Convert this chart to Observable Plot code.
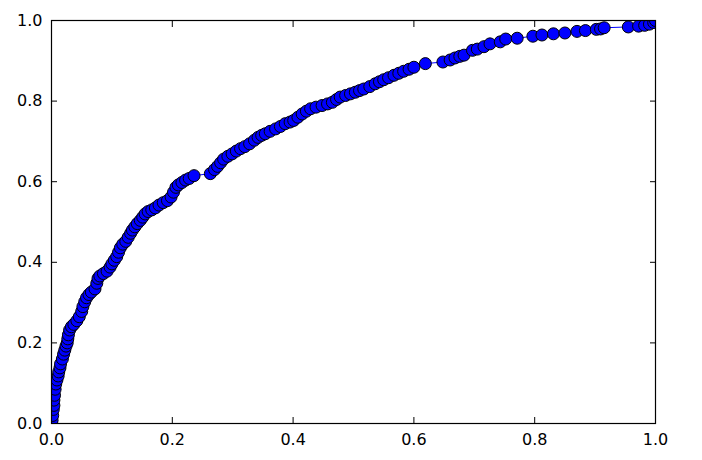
<!DOCTYPE html>
<html>
<head>
<meta charset="utf-8">
<script src="https://cdn.jsdelivr.net/npm/d3@7"></script>
<script src="https://cdn.jsdelivr.net/npm/@observablehq/plot@0.6"></script>
<style>
  html, body { margin: 0; padding: 0; background: #fff; }
  #chart { width: 702px; height: 460px; }
</style>
</head>
<body>
<div id="chart"></div>
<script>
const xValues = [
  0.000, 0.001, 0.002, 0.003, 0.004, 0.004, 0.005, 0.006, 0.007, 0.009,
  0.011, 0.012, 0.014, 0.015, 0.018, 0.020, 0.022, 0.024, 0.026, 0.027,
  0.028, 0.030, 0.033, 0.037, 0.042, 0.046, 0.050, 0.052, 0.055, 0.058,
  0.062, 0.066, 0.072, 0.075, 0.077, 0.080, 0.086, 0.092, 0.097, 0.100,
  0.104, 0.108, 0.111, 0.114, 0.118, 0.123, 0.127, 0.131, 0.134, 0.138,
  0.142, 0.147, 0.151, 0.155, 0.160, 0.166, 0.172, 0.178, 0.185, 0.192,
  0.198, 0.202, 0.206, 0.210, 0.216, 0.222, 0.228, 0.236, 0.263, 0.270,
  0.275, 0.280, 0.285, 0.292, 0.299, 0.306, 0.313, 0.320, 0.328, 0.336,
  0.342, 0.348, 0.354, 0.362, 0.371, 0.379, 0.387, 0.395, 0.401, 0.408,
  0.415, 0.422, 0.429, 0.438, 0.448, 0.457, 0.465, 0.472, 0.478, 0.487,
  0.495, 0.503, 0.510, 0.517, 0.527, 0.536, 0.543, 0.550, 0.558, 0.567,
  0.575, 0.583, 0.592, 0.600, 0.619, 0.648, 0.660, 0.668, 0.676, 0.683,
  0.697, 0.705, 0.716, 0.726, 0.743, 0.752, 0.771, 0.797, 0.812, 0.831,
  0.850, 0.870, 0.884, 0.902, 0.909, 0.915, 0.955, 0.972, 0.982, 0.990,
  0.997, 1.000
];
const yValues = [
  0.000, 0.008, 0.020, 0.035, 0.045, 0.058, 0.070, 0.085, 0.098, 0.108,
  0.118, 0.128, 0.138, 0.148, 0.160, 0.172, 0.182, 0.192, 0.200, 0.210,
  0.220, 0.232, 0.240, 0.246, 0.255, 0.265, 0.278, 0.290, 0.302, 0.312,
  0.320, 0.326, 0.334, 0.348, 0.360, 0.366, 0.372, 0.378, 0.388, 0.396,
  0.405, 0.414, 0.425, 0.436, 0.445, 0.452, 0.462, 0.472, 0.480, 0.488,
  0.496, 0.504, 0.512, 0.520, 0.526, 0.530, 0.535, 0.542, 0.548, 0.553,
  0.562, 0.574, 0.586, 0.592, 0.598, 0.604, 0.608, 0.615, 0.620, 0.630,
  0.638, 0.647, 0.656, 0.663, 0.669, 0.676, 0.682, 0.687, 0.694, 0.703,
  0.710, 0.715, 0.719, 0.725, 0.731, 0.737, 0.744, 0.748, 0.752, 0.760,
  0.768, 0.775, 0.781, 0.785, 0.789, 0.793, 0.797, 0.804, 0.810, 0.814,
  0.818, 0.822, 0.826, 0.830, 0.836, 0.843, 0.848, 0.853, 0.858, 0.864,
  0.869, 0.874, 0.879, 0.884, 0.893, 0.897, 0.902, 0.907, 0.911, 0.914,
  0.926, 0.929, 0.935, 0.942, 0.947, 0.954, 0.956, 0.961, 0.964, 0.967,
  0.969, 0.973, 0.975, 0.978, 0.979, 0.982, 0.984, 0.986, 0.988, 0.991,
  0.995, 1.000
];
const xTicks = [0.0, 0.2, 0.4, 0.6, 0.8, 1.0];
const yTicks = [0.0, 0.2, 0.4, 0.6, 0.8, 1.0];

const data = xValues.map((x, i) => ({x, y: yValues[i]}));

const chart = Plot.plot({
  width: 702,
  height: 460,
  marginLeft: 51,
  marginRight: 47,
  marginTop: 20,
  marginBottom: 37,
  style: {fontFamily: "'DejaVu Sans', sans-serif", fontSize: "16px", color: "black", background: "white"},
  x: {domain: [0, 1]},
  y: {domain: [0, 1]},
  marks: [
    Plot.line(data, {x: "x", y: "y", stroke: "#0000ff", strokeWidth: 1, clip: true}),
    Plot.dot(data, {x: "x", y: "y", r: 6, fill: "#0000ff", stroke: "black", strokeWidth: 1, clip: true}),
    Plot.axisX({anchor: "bottom", ticks: xTicks, tickFormat: ".1f", tickSize: -6, tickPadding: 16, label: null, stroke: "black"}),
    Plot.axisX({anchor: "top", ticks: xTicks, tickSize: -6, text: null, label: null, stroke: "black"}),
    Plot.axisY({anchor: "left", ticks: yTicks, tickFormat: ".1f", tickSize: -6, tickPadding: 15, label: null, stroke: "black"}),
    Plot.axisY({anchor: "right", ticks: yTicks, tickSize: -6, text: null, label: null, stroke: "black"}),
    Plot.frame({stroke: "black", strokeWidth: 1.2})
  ]
});
document.getElementById("chart").appendChild(chart);
</script>
</body>
</html>
